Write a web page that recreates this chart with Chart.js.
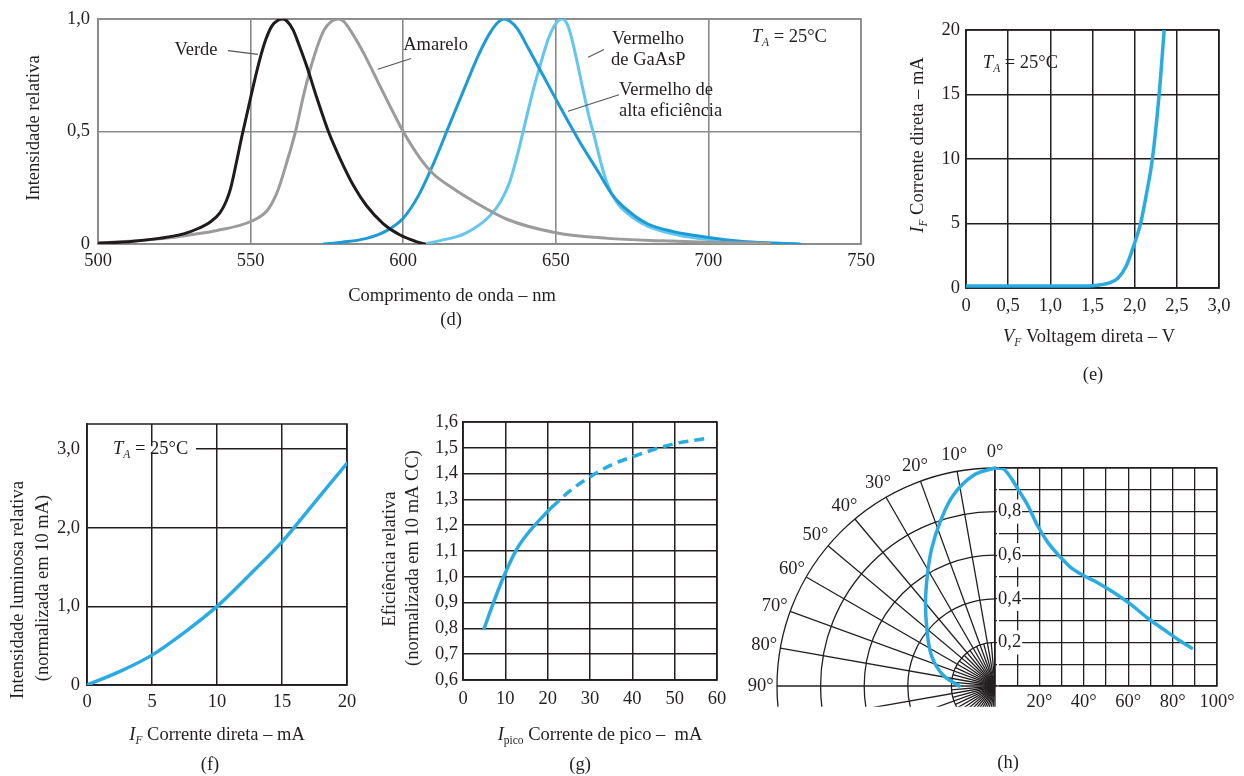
<!DOCTYPE html>
<html><head><meta charset="utf-8">
<script src="https://cdn.jsdelivr.net/npm/chart.js@4.4.1/dist/chart.umd.min.js"></script>
<style>html,body{margin:0;padding:0;background:#fff}body{width:1244px;height:776px;position:relative;overflow:hidden}</style>
</head><body>
<script>
// ================= DATA =================
// (d) Relative intensity vs wavelength
const wlVerde   = [500,510,520,528,533,537,540,542,543.5,545,547,549,551,553,555,557,559,560.5,562,564,566,568.4,571.7,575.5,579.3,583.7,588,593.5,599,604,607];
const relVerde  = [0.003,0.01,0.025,0.045,0.07,0.1,0.14,0.19,0.25,0.34,0.47,0.59,0.71,0.82,0.91,0.97,0.995,1.0,0.99,0.95,0.88,0.79,0.65,0.5,0.38,0.26,0.17,0.09,0.04,0.012,0];
const wlAmarelo  = [500,510,522,530,539,550,555.5,558.7,562,564.7,567.5,570.7,574,576.5,578.6,580.5,582.7,587,591.4,595.8,600,605.6,610,616,623,634,650,667,685,700,720];
const relAmarelo = [0.004,0.012,0.025,0.04,0.06,0.1,0.15,0.23,0.37,0.5,0.67,0.83,0.95,0.99,1.0,0.99,0.95,0.85,0.73,0.61,0.5,0.38,0.31,0.25,0.19,0.11,0.05,0.025,0.014,0.008,0.002];
const wlAltaEf  = [574,580,588,594,600,605,610,615,620,625,628.5,631,633,635,637.5,641,647,652.6,658,663.5,669,674.4,680,688.6,699.5,710.5,721.5,730];
const relAltaEf = [0,0.008,0.025,0.055,0.115,0.215,0.36,0.525,0.69,0.85,0.94,0.985,1.0,0.99,0.955,0.87,0.72,0.58,0.45,0.33,0.21,0.14,0.09,0.055,0.03,0.012,0.004,0];
const wlGaAsP   = [607,612,620,628,632,635,637.5,640,642.5,645,647.5,650,652,654,656,658.7,661,662.6,664.6,666.8,670,675,680,690,700,715,729];
const relGaAsP  = [0,0.015,0.045,0.12,0.19,0.28,0.4,0.54,0.68,0.8,0.91,0.98,1.0,0.97,0.87,0.7,0.56,0.48,0.37,0.27,0.185,0.12,0.08,0.04,0.02,0.006,0];
const dTicksX  = [500,550,600,650,700,750];
const dLabelsX = ['500','550','600','650','700','750'];
const dTicksY  = [0,0.5,1];
const dLabelsY = ['0','0,5','1,0'];

// (e) Forward current vs forward voltage
const eVolt    = [0,0.5,1.0,1.4,1.5,1.6,1.7,1.8,1.9,2.0,2.07,2.14,2.21,2.29,2.35];
const eCurrent = [0.15,0.15,0.15,0.15,0.18,0.25,0.4,0.75,1.7,3.5,5,7.3,10,15,20];
const eTicksX  = [0,0.5,1,1.5,2,2.5,3];
const eLabelsX = ['0','0,5','1,0','1,5','2,0','2,5','3,0'];
const eTicksY  = [0,5,10,15,20];
const eLabelsY = ['0','5','10','15','20'];

// (f) Relative luminous intensity vs forward current
const fCurrent = [0,2.5,5,7.5,10,12.5,15,17.5,20];
const fLum     = [0,0.17,0.38,0.67,1.0,1.4,1.82,2.32,2.82];
const fTicksX  = [0,5,10,15,20];
const fLabelsX = ['0','5','10','15','20'];
const fTicksY  = [0,1,2,3];
const fLabelsY = ['0','1,0','2,0','3,0'];

// (g) Relative efficiency vs peak current
const gCurrentSolid = [5,7.2,9.6,12.8,15.9,19.8,21];
const gEffSolid     = [0.80,0.90,1.0,1.11,1.18,1.25,1.27];
const gCurrentDash  = [21,25.4,30,34.8,40,45,50,57];
const gEffDash      = [1.27,1.335,1.387,1.432,1.465,1.493,1.516,1.535];
const gTicksX  = [0,10,20,30,40,50,60];
const gLabelsX = ['0','10','20','30','40','50','60'];
const gTicksY  = [0.6,0.7,0.8,0.9,1.0,1.1,1.2,1.3,1.4,1.5,1.6];
const gLabelsY = ['0,6','0,7','0,8','0,9','1,0','1,1','1,2','1,3','1,4','1,5','1,6'];

// (h) Relative intensity vs angle (cartesian + polar)
const hAngleDeg = [0,3.4,7.5,10.2,14.7,19.2,23.7,28.2,30.5,34.2,40.2,46.2,53.7,61.2,68.7,76.2,83.7,88.5];
const hRel      = [1.0,0.997,0.95,0.905,0.83,0.735,0.66,0.605,0.58,0.543,0.505,0.474,0.428,0.374,0.312,0.258,0.205,0.174];
const hPolarDeg = [0,5.9,12.4,18.7,25,31.8,39.9,50.4,65,78,90];
const hPolarR   = [1.0,0.971,0.895,0.79,0.69,0.59,0.497,0.405,0.32,0.244,0.165];
const hTicksX  = [0,10,20,30,40,50,60,70,80,90,100];
const hLabelsX = ['','','20°','','40°','','60°','','80°','','100°'];
const hTicksY  = [0,0.1,0.2,0.3,0.4,0.5,0.6,0.7,0.8,0.9,1.0];
const hLabelsY = ['','','0,2','','0,4','','0,6','','0,8','',''];
const hRings        = [0.2,0.4,0.6,0.8,1.0];
const hSpokeDeg     = [10,20,30,40,50,60,70,80,90,100,110,120,130,140,150,160,170];
const hFineSpokeDeg = [5,15,25,35,45,55,65,75,85,95,105,115,125,135,145,155,165,175];
const hPolarLabelDeg = [0,10,20,30,40,50,60,70,80,90];
const hPolarLabels   = ['0°','10°','20°','30°','40°','50°','60°','70°','80°','90°'];

// ================= RENDERING =================
const SERIF = "'Liberation Serif','Times New Roman',serif";
const INK = '#231f20';
const FS = 18.5;
Chart.defaults.font.family = SERIF;
Chart.defaults.font.size = FS;
Chart.defaults.color = INK;

const pts = (xs, ys) => xs.map((x, i) => ({ x, y: ys[i] }));

function rich(ctx, segs, x, y, o = {}) {
  const size = o.size || FS;
  ctx.save();
  ctx.translate(x, y);
  if (o.rotate) ctx.rotate(o.rotate);
  ctx.fillStyle = o.color || INK;
  ctx.textBaseline = 'middle';
  ctx.textAlign = 'left';
  const parts = segs.map(s0 => {
    const s = typeof s0 === 'string' ? { t: s0 } : s0;
    const fs = s.sub ? size * 0.62 : size;
    const font = (s.it ? 'italic ' : '') + fs + 'px ' + SERIF;
    ctx.font = font;
    return { s, font, w: ctx.measureText(s.t).width };
  });
  const total = parts.reduce((a, p) => a + p.w, 0);
  let cx = o.align === 'left' ? 0 : o.align === 'right' ? -total : -total / 2;
  for (const p of parts) {
    ctx.font = p.font;
    ctx.fillText(p.s.t, cx, p.s.sub ? size * 0.32 : 0);
    cx += p.w;
  }
  ctx.restore();
  return total;
}

function line(ctx, a, b, color, w) {
  ctx.save(); ctx.strokeStyle = color; ctx.lineWidth = w;
  ctx.beginPath(); ctx.moveTo(a[0], a[1]); ctx.lineTo(b[0], b[1]); ctx.stroke(); ctx.restore();
}

function xAxis(cfg, min, max, ticks, labels, pad, extra = {}) {
  return Object.assign({
    type: 'linear', position: 'bottom', min, max,
    afterBuildTicks: s => { s.ticks = ticks.map(v => ({ value: v })); },
    afterFit: s => { s.height = cfg.box.y + cfg.box.h - cfg.area.b; },
    ticks: { autoSkip: false, maxRotation: 0, minRotation: 0, padding: pad, color: INK,
             font: { family: SERIF, size: FS }, callback: (v, i) => labels[i] },
    grid: { color: cfg.gridColor, lineWidth: cfg.gridWidth, drawTicks: false },
    border: { display: true, color: cfg.gridColor, width: cfg.gridWidth }
  }, extra);
}
function yAxis(cfg, min, max, ticks, labels, pad, extraTicks = {}) {
  return {
    type: 'linear', position: 'left', min, max,
    afterBuildTicks: s => { s.ticks = ticks.map(v => ({ value: v })); },
    afterFit: s => { s.width = cfg.area.l - cfg.box.x; },
    ticks: Object.assign({ autoSkip: false, padding: pad, color: INK,
             font: { family: SERIF, size: FS }, callback: (v, i) => labels[i] }, extraTicks),
    grid: { color: cfg.gridColor, lineWidth: cfg.gridWidth, drawTicks: false },
    border: { display: true, color: cfg.gridColor, width: cfg.gridWidth }
  };
}

function panel(cfg) {
  const { box, area } = cfg;
  const cv = document.createElement('canvas');
  cv.width = box.w; cv.height = box.h;
  cv.style.cssText = `position:absolute;left:${box.x}px;top:${box.y}px;width:${box.w}px;height:${box.h}px`;
  document.body.appendChild(cv);
  const P = (x, y) => [x - box.x, y - box.y];
  const deco = {
    id: 'deco',
    beforeDatasetsDraw(ch) {
      const ctx = ch.ctx, a = ch.chartArea;
      ctx.save();
      ctx.strokeStyle = cfg.gridColor; ctx.lineWidth = cfg.gridWidth;
      ctx.strokeRect(a.left, a.top, a.right - a.left, a.bottom - a.top);
      ctx.restore();
      if (cfg.under) { ctx.save(); cfg.under(ch, ctx, P); ctx.restore(); }
    },
    afterDraw(ch) {
      const ctx = ch.ctx;
      const D = (xv, yv, xid = 'x', yid = 'y') => [ch.scales[xid].getPixelForValue(xv), ch.scales[yid].getPixelForValue(yv)];
      ctx.save(); cfg.over(ch, ctx, P, D); ctx.restore();
    }
  };
  return new Chart(cv, {
    type: 'line',
    data: { datasets: cfg.datasets },
    options: {
      responsive: false, animation: false, events: [],
      layout: { padding: { left: 0, bottom: 0, top: area.t - box.y, right: box.x + box.w - area.r } },
      plugins: { legend: { display: false }, tooltip: { enabled: false } },
      elements: { point: { radius: 0 } },
      scales: cfg.scales(cfg)
    },
    plugins: [deco]
  });
}

const ds = (data, color, width, extra = {}) => Object.assign({
  data, borderColor: color, borderWidth: width, pointRadius: 0, fill: false,
  cubicInterpolationMode: 'monotone', borderCapStyle: 'round', borderJoinStyle: 'round'
}, extra);

const BLUE = '#2aace2';

// ---------- (d) ----------
panel({
  box: { x: 0, y: 0, w: 900, h: 340 }, area: { l: 98, t: 15, r: 861, b: 244 },
  gridColor: '#8a8a8a', gridWidth: 1.6,
  datasets: [
    ds(pts(wlVerde, relVerde), '#1f1b1c', 3),
    ds(pts(wlAmarelo, relAmarelo), '#9b9b9b', 3),
    ds(pts(wlAltaEf, relAltaEf), '#1d9bd7', 3),
    ds(pts(wlGaAsP, relGaAsP), '#62c6ee', 3)
  ],
  scales: c => ({
    x: xAxis(c, 500, 750, dTicksX, dLabelsX, 6),
    y: yAxis(c, 0, 1, dTicksY, dLabelsY, 8)
  }),
  over(ch, ctx, P, D) {
    rich(ctx, ['Intensidade relativa'], ...P(34, 128), { rotate: -Math.PI / 2 });
    rich(ctx, ['Comprimento de onda – nm'], ...P(452, 296));
    rich(ctx, ['(d)'], ...P(451, 320));
    const lc = '#555', lw = 1.1;
    rich(ctx, ['Verde'], ...D(532.1, 0.86));
    line(ctx, D(542.6, 0.86), D(552.4, 0.843), lc, lw);
    rich(ctx, ['Amarelo'], ...D(600, 0.886), { align: 'left' });
    line(ctx, D(602.6, 0.825), D(591.7, 0.777), lc, lw);
    rich(ctx, ['Vermelho'], ...D(668.4, 0.913), { align: 'left' });
    rich(ctx, ['de GaAsP'], ...D(668.1, 0.817), { align: 'left' });
    line(ctx, D(665.8, 0.865), D(660.6, 0.83), lc, lw);
    rich(ctx, ['Vermelho de'], ...D(670.7, 0.686), { align: 'left' });
    rich(ctx, ['alta eficiência'], ...D(670.7, 0.59), { align: 'left' });
    line(ctx, D(670.7, 0.664), D(654, 0.59), lc, lw);
    rich(ctx, [{ t: 'T', it: 1 }, { t: 'A', it: 1, sub: 1 }, ' = 25°C'], ...D(714.2, 0.92), { align: 'left' });
  }
});

// ---------- (e) ----------
panel({
  box: { x: 900, y: 0, w: 344, h: 395 }, area: { l: 966, t: 30, r: 1219, b: 288 },
  gridColor: INK, gridWidth: 1.5,
  datasets: [ ds(pts(eVolt, eCurrent), BLUE, 3.5) ],
  scales: c => ({
    x: xAxis(c, 0, 3, eTicksX, eLabelsX, 7),
    y: yAxis(c, 0, 20, eTicksY, eLabelsY, 6)
  }),
  over(ch, ctx, P, D) {
    rich(ctx, [{ t: 'I', it: 1 }, { t: 'F', it: 1, sub: 1 }, ' Corrente direta – mA'], ...P(918, 145), { rotate: -Math.PI / 2 });
    rich(ctx, [{ t: 'V', it: 1 }, { t: 'F', it: 1, sub: 1 }, ' Voltagem direta – V'], ...P(1089, 337));
    rich(ctx, ['(e)'], ...P(1093, 375));
    rich(ctx, [{ t: 'T', it: 1 }, { t: 'A', it: 1, sub: 1 }, ' = 25°C'], ...D(0.2, 17.45), { align: 'left' });
  }
});

// ---------- (f) ----------
panel({
  box: { x: 0, y: 400, w: 370, h: 376 }, area: { l: 87, t: 424, r: 347, b: 685 },
  gridColor: INK, gridWidth: 1.5,
  datasets: [ ds(pts(fCurrent, fLum), BLUE, 3.5) ],
  scales: c => ({
    x: xAxis(c, 0, 20, fTicksX, fLabelsX, 6),
    y: yAxis(c, 0, 3.32, fTicksY, fLabelsY, 7)
  }),
  over(ch, ctx, P, D) {
    rich(ctx, ['Intensidade luminosa relativa'], ...P(18, 590), { rotate: -Math.PI / 2 });
    rich(ctx, ['(normalizada em 10 mA)'], ...P(43, 588), { rotate: -Math.PI / 2 });
    rich(ctx, [{ t: 'I', it: 1 }, { t: 'F', it: 1, sub: 1 }, ' Corrente direta – mA'], ...P(217, 735));
    rich(ctx, ['(f)'], ...P(210, 765));
    const p = D(2.0, 3.0);
    ctx.fillStyle = '#fff';
    ctx.fillRect(ch.chartArea.left + 1, p[1] - 3, p[0] + 82 - ch.chartArea.left, 6);
    rich(ctx, [{ t: 'T', it: 1 }, { t: 'A', it: 1, sub: 1 }, ' = 25°C'], p[0], p[1], { align: 'left' });
  }
});

// ---------- (g) ----------
panel({
  box: { x: 370, y: 400, w: 370, h: 376 }, area: { l: 463, t: 422, r: 717, b: 680 },
  gridColor: INK, gridWidth: 1.5,
  datasets: [
    ds(pts(gCurrentSolid, gEffSolid), BLUE, 3.5),
    ds(pts(gCurrentDash, gEffDash), BLUE, 3.5, { borderDash: [10, 6], borderCapStyle: 'butt' })
  ],
  scales: c => ({
    x: xAxis(c, 0, 60, gTicksX, gLabelsX, 8),
    y: yAxis(c, 0.6, 1.6, gTicksY, gLabelsY, 5)
  }),
  over(ch, ctx, P, D) {
    rich(ctx, ['Eficiência relativa'], ...P(390, 559), { rotate: -Math.PI / 2 });
    rich(ctx, ['(normalizada em 10 mA CC)'], ...P(413, 558), { rotate: -Math.PI / 2 });
    rich(ctx, [{ t: 'I', it: 1 }, { t: 'pico', sub: 1 }, ' Corrente de pico –  mA'], ...P(600, 735));
    rich(ctx, ['(g)'], ...P(580, 765));
  }
});

// ---------- (h) ----------
panel({
  box: { x: 740, y: 430, w: 504, h: 346 }, area: { l: 995, t: 468, r: 1217, b: 686 },
  gridColor: INK, gridWidth: 1.3,
  datasets: [
    ds(pts(hAngleDeg, hRel), BLUE, 3.5),
    ds(hPolarDeg.map((d, i) => ({ x: -hPolarR[i] * Math.sin(d * Math.PI / 180), y: hPolarR[i] * Math.cos(d * Math.PI / 180) })),
       BLUE, 3.5, { xAxisID: 'xp', clip: false, cubicInterpolationMode: 'default', tension: 0.4 })
  ],
  scales: c => ({
    x: xAxis(c, 0, 100, hTicksX, hLabelsX, 5),
    xp: { type: 'linear', axis: 'x', position: 'bottom', display: false, min: 0,
          max: (c.area.r - c.area.l) / (c.area.b - c.area.t) },
    y: yAxis(c, 0, 1, hTicksY, hLabelsY, 3,
             { mirror: true, showLabelBackdrop: true, backdropColor: '#fff', backdropPadding: 1 })
  }),
  under(ch, ctx, P) {
    const xs = ch.scales.xp, ys = ch.scales.y;
    const ox = xs.getPixelForValue(0), oy = ys.getPixelForValue(0);
    const unit = oy - ys.getPixelForValue(1);
    const yCut = ys.getPixelForValue(-0.095);
    ctx.strokeStyle = INK; ctx.lineWidth = 1.3;
    ctx.save();
    ctx.beginPath(); ctx.rect(0, 0, ox, yCut); ctx.clip();
    for (const r of hRings) {
      ctx.beginPath(); ctx.arc(ox, oy, r * unit, -Math.PI / 2, -1.5 * Math.PI, true); ctx.stroke();
    }
    const spoke = (deg, r) => {
      const a = deg * Math.PI / 180;
      ctx.beginPath(); ctx.moveTo(ox, oy);
      ctx.lineTo(ox - r * unit * Math.sin(a), oy - r * unit * Math.cos(a)); ctx.stroke();
    };
    hSpokeDeg.forEach(d => spoke(d, 1));
    hFineSpokeDeg.forEach(d => spoke(d, 0.2));
    ctx.restore();
    ctx.beginPath(); ctx.moveTo(ox, oy); ctx.lineTo(ox, yCut); ctx.stroke();
    hPolarLabelDeg.forEach((d, i) => {
      const a = d * Math.PI / 180, R = 1.075 * unit;
      rich(ctx, [hPolarLabels[i]], ox - R * Math.sin(a), oy - R * Math.cos(a));
    });
  },
  over(ch, ctx, P, D) {
    rich(ctx, ['(h)'], ...P(1008, 763));
  }
});
</script>
</body></html>
